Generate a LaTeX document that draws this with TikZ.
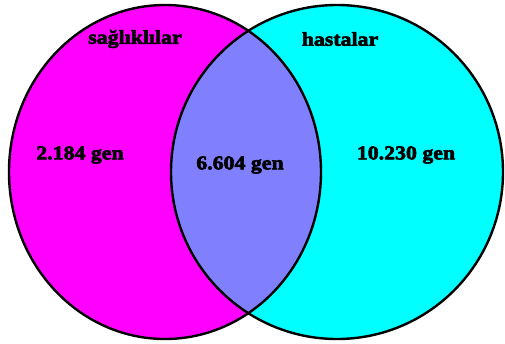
\documentclass[tikz,border=0pt]{standalone}
\usepackage{fontspec}
\setmainfont{Liberation Serif}[FakeStretch=1.12,FakeBold=3]
\definecolor{mag}{RGB}{255,0,255}
\definecolor{cya}{RGB}{0,255,255}
\definecolor{mid}{RGB}{128,128,255}
\begin{document}
\begin{tikzpicture}[x=1pt,y=-1pt,
  lbl/.style={font=\bfseries\fontsize{19.5}{19.5}\selectfont, inner sep=0pt, text=black},
  rim/.style={draw=black, line width=2.4pt}]
\useasboundingbox (0,0) rectangle (505,343);
\fill[white] (0,0) rectangle (505,343);
\fill[mag] (165,172) ellipse [x radius=156, y radius=167];
\fill[cya] (337,172) ellipse [x radius=166, y radius=167];
\begin{scope}
  \clip (165,172) ellipse [x radius=156, y radius=167];
  \fill[mid] (337,172) ellipse [x radius=166, y radius=167];
\end{scope}
\draw[rim] (165,172) ellipse [x radius=156, y radius=167];
\draw[rim] (337,172) ellipse [x radius=166, y radius=167];
\node[lbl] (healthy) at (135,39) {sağlıklılar};
\node[lbl] (sick) at (340,39) {hastalar};
\node[lbl] (left) at (80,155) {2.184 gen};
\node[lbl] (both) at (240,165) {6.604 gen};
\node[lbl] (right) at (406,155) {10.230 gen};
\end{tikzpicture}
\end{document}
